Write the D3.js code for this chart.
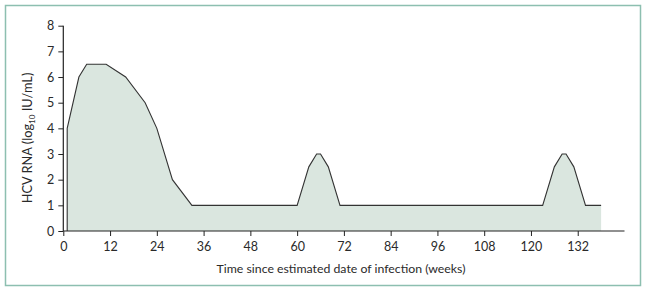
<!DOCTYPE html>
<html><head><meta charset="utf-8">
<script src="https://cdn.jsdelivr.net/npm/d3@7"></script>
<style>
body{margin:0;background:#fff;}
svg{display:block;font-family:Lato,"Open Sans",sans-serif;}
</style></head>
<body>
<svg id="c" width="647" height="293"></svg>
<script>
const weeks = [1, 1, 4, 6, 11, 16, 21, 24, 28, 33, 60, 63, 65, 66, 68, 71, 123, 126, 128, 129, 131, 134, 138, 138];
const rna   = [0, 4, 6, 6.5, 6.5, 6, 5, 4, 2, 1, 1, 2.5, 3, 3, 2.5, 1, 1, 2.5, 3, 3, 2.5, 1, 1, 0];
const xTicks = [0, 12, 24, 36, 48, 60, 72, 84, 96, 108, 120, 132];
const yTicks = [0, 1, 2, 3, 4, 5, 6, 7, 8];

const svg = d3.select("#c");
svg.append("rect").attr("x",5.5).attr("y",5.5).attr("width",635).attr("height",280)
  .attr("fill","none").attr("stroke","#8dbfb0").attr("stroke-width",1.5);

const x = d3.scaleLinear().domain([0,144]).range([63.3, 624.5]);
const y = d3.scaleLinear().domain([0,8]).range([231, 25.7]);

const pts = weeks.map((w,i)=>[w,rna[i]]);
svg.append("path").datum(pts)
  .attr("d", d3.area().x(d=>x(d[0])).y0(y(0)).y1(d=>y(d[1])))
  .attr("fill","#dae6df");
svg.append("path").datum(pts.slice(0, pts.length-1))
  .attr("d", d3.line().x(d=>x(d[0])).y(d=>y(d[1])))
  .attr("fill","none").attr("stroke","#333").attr("stroke-width",1.1);

const xa = svg.append("g").attr("transform",`translate(0,${y(0)})`)
  .call(d3.axisBottom(x).tickValues(xTicks).tickSize(5).tickPadding(6));
const ya = svg.append("g").attr("transform",`translate(${x(0)},0)`)
  .call(d3.axisLeft(y).tickValues(yTicks).tickSize(5).tickPadding(4));
[xa,ya].forEach(a=>{
  a.select(".domain").attr("stroke","#222").attr("stroke-width",1.2);
  a.selectAll(".tick line").attr("stroke","#222");
  a.selectAll(".tick text").attr("fill","#2a2a2a").style("font-size","12.5px").style("font-family","Lato,'Open Sans',sans-serif");
});
xa.select(".domain").attr("d",`M${x(0)},0H${x(144)}`);
ya.select(".domain").attr("d",`M0,${y(8)}V${y(0)}`);

svg.append("text").attr("x",341).attr("y",273).attr("text-anchor","middle")
  .attr("fill","#2a2a2a").style("font-size","12.3px").text("Time since estimated date of infection (weeks)");

const yl = svg.append("text").attr("transform","translate(32,138) rotate(-90)")
  .attr("text-anchor","middle").attr("fill","#2a2a2a").style("font-size","12.8px");
yl.append("tspan").text("HCV RNA (log");
yl.append("tspan").attr("dy",3).style("font-size","8px").text("10");
yl.append("tspan").attr("dy",-3).text(" IU/mL)");
</script>
</body></html>
